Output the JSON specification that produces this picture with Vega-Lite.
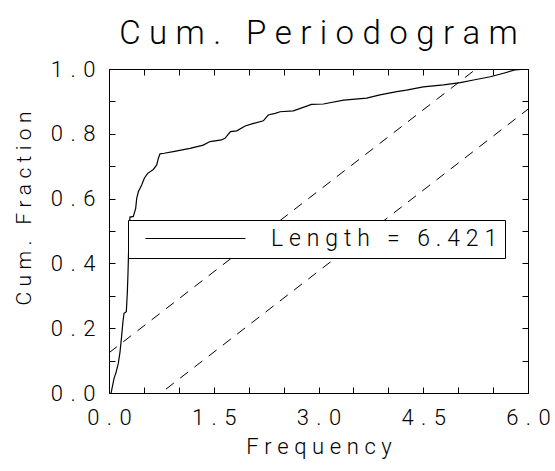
{
  "$schema": "https://vega.github.io/schema/vega-lite/v6.json",
  "width": 419,
  "height": 324,
  "autosize": {"type": "none"},
  "padding": {"left": 109, "top": 69, "right": 27, "bottom": 78},
  "background": "white",
  "title": {
    "text": "C\u2005u\u2005m\u2005.\u2005 \u2005P\u2005e\u2005r\u2005i\u2005o\u2005d\u2005o\u2005g\u2005r\u2005a\u2005m",
    "anchor": "middle",
    "frame": "group",
    "baseline": "alphabetic",
    "offset": 0,
    "dy": 19,
    "fontSize": 33,
    "font": "Roboto",
    "fontWeight": 300,
    "color": "black"
  },
  "config": {
    "view": {"stroke": "black", "strokeWidth": 1},
    "axis": {
      "grid": false,
      "domain": false,
      "tickColor": "black",
      "tickWidth": 1,
      "tickSize": -6,
      "labelColor": "black",
      "labelFont": "Roboto",
      "labelFontWeight": 300,
      "labelFontSize": 22,
      "titleColor": "black",
      "titleFont": "Roboto",
      "titleFontWeight": 300,
      "titleFontSize": 22,
      "labelOverlap": false,
      "labelFlush": false
    }
  },
  "resolve": {"axis": {"x": "independent", "y": "independent"}},
  "layer": [
    {
      "data": {
        "values": [
          {"f": 0.03, "v": 0.0, "series": "Length = 6.421"},
          {"f": 0.072, "v": 0.045, "series": "Length = 6.421"},
          {"f": 0.1, "v": 0.063, "series": "Length = 6.421"},
          {"f": 0.134, "v": 0.092, "series": "Length = 6.421"},
          {"f": 0.158, "v": 0.127, "series": "Length = 6.421"},
          {"f": 0.18, "v": 0.174, "series": "Length = 6.421"},
          {"f": 0.2, "v": 0.22, "series": "Length = 6.421"},
          {"f": 0.215, "v": 0.246, "series": "Length = 6.421"},
          {"f": 0.248, "v": 0.251, "series": "Length = 6.421"},
          {"f": 0.262, "v": 0.308, "series": "Length = 6.421"},
          {"f": 0.272, "v": 0.369, "series": "Length = 6.421"},
          {"f": 0.277, "v": 0.41, "series": "Length = 6.421"},
          {"f": 0.285, "v": 0.47, "series": "Length = 6.421"},
          {"f": 0.3, "v": 0.543, "series": "Length = 6.421"},
          {"f": 0.348, "v": 0.545, "series": "Length = 6.421"},
          {"f": 0.382, "v": 0.57, "series": "Length = 6.421"},
          {"f": 0.397, "v": 0.601, "series": "Length = 6.421"},
          {"f": 0.42, "v": 0.621, "series": "Length = 6.421"},
          {"f": 0.468, "v": 0.642, "series": "Length = 6.421"},
          {"f": 0.506, "v": 0.663, "series": "Length = 6.421"},
          {"f": 0.554, "v": 0.678, "series": "Length = 6.421"},
          {"f": 0.635, "v": 0.69, "series": "Length = 6.421"},
          {"f": 0.683, "v": 0.704, "series": "Length = 6.421"},
          {"f": 0.706, "v": 0.724, "series": "Length = 6.421"},
          {"f": 0.73, "v": 0.738, "series": "Length = 6.421"},
          {"f": 0.79, "v": 0.74, "series": "Length = 6.421"},
          {"f": 0.92, "v": 0.745, "series": "Length = 6.421"},
          {"f": 1.16, "v": 0.755, "series": "Length = 6.421"},
          {"f": 1.35, "v": 0.765, "series": "Length = 6.421"},
          {"f": 1.446, "v": 0.776, "series": "Length = 6.421"},
          {"f": 1.61, "v": 0.781, "series": "Length = 6.421"},
          {"f": 1.66, "v": 0.786, "series": "Length = 6.421"},
          {"f": 1.74, "v": 0.807, "series": "Length = 6.421"},
          {"f": 1.83, "v": 0.809, "series": "Length = 6.421"},
          {"f": 1.95, "v": 0.824, "series": "Length = 6.421"},
          {"f": 2.07, "v": 0.832, "series": "Length = 6.421"},
          {"f": 2.21, "v": 0.84, "series": "Length = 6.421"},
          {"f": 2.28, "v": 0.858, "series": "Length = 6.421"},
          {"f": 2.38, "v": 0.863, "series": "Length = 6.421"},
          {"f": 2.45, "v": 0.868, "series": "Length = 6.421"},
          {"f": 2.64, "v": 0.871, "series": "Length = 6.421"},
          {"f": 2.9, "v": 0.891, "series": "Length = 6.421"},
          {"f": 3.07, "v": 0.892, "series": "Length = 6.421"},
          {"f": 3.36, "v": 0.904, "series": "Length = 6.421"},
          {"f": 3.69, "v": 0.91, "series": "Length = 6.421"},
          {"f": 3.88, "v": 0.92, "series": "Length = 6.421"},
          {"f": 4.12, "v": 0.93, "series": "Length = 6.421"},
          {"f": 4.26, "v": 0.935, "series": "Length = 6.421"},
          {"f": 4.5, "v": 0.945, "series": "Length = 6.421"},
          {"f": 4.79, "v": 0.951, "series": "Length = 6.421"},
          {"f": 5.03, "v": 0.958, "series": "Length = 6.421"},
          {"f": 5.22, "v": 0.966, "series": "Length = 6.421"},
          {"f": 5.46, "v": 0.976, "series": "Length = 6.421"},
          {"f": 5.65, "v": 0.987, "series": "Length = 6.421"},
          {"f": 5.81, "v": 0.997, "series": "Length = 6.421"},
          {"f": 6.0, "v": 1.0, "series": "Length = 6.421"}
        ]
      },
      "mark": {"type": "line", "strokeWidth": 1.2, "clip": true},
      "encoding": {
        "x": {
          "field": "f",
          "type": "quantitative",
          "scale": {"domain": [0, 6], "nice": false, "zero": false},
          "axis": {
            "orient": "bottom",
            "values": [0, 0.5, 1, 1.5, 2, 2.5, 3, 3.5, 4, 4.5, 5, 5.5, 6],
            "labelExpr": "datum.value % 1.5 == 0 ? join(split(format(datum.value, '.1f'), ''), '\u2004') : ''",
            "labelPadding": 20,
            "title": "F\u2005r\u2005e\u2005q\u2005u\u2005e\u2005n\u2005c\u2005y",
            "titleBaseline": "alphabetic",
            "titleY": 60
          }
        },
        "y": {
          "field": "v",
          "type": "quantitative",
          "scale": {"domain": [0, 1], "nice": false, "zero": false},
          "axis": {
            "orient": "left",
            "values": [0, 0.1, 0.2, 0.3, 0.4, 0.5, 0.6, 0.7, 0.8, 0.9, 1],
            "labelExpr": "round(datum.value * 10) % 2 == 0 ? join(split(format(datum.value, '.1f'), ''), '\u2004') : ''",
            "labelPadding": 20,
            "title": "C\u2005u\u2005m\u2005.\u2005 \u2005F\u2005r\u2005a\u2005c\u2005t\u2005i\u2005o\u2005n",
            "titleFontSize": 21,
            "titleBaseline": "alphabetic",
            "titleAngle": -90,
            "titleX": -79,
            "titleY": 139
          }
        },
        "color": {
          "field": "series",
          "type": "nominal",
          "scale": {"range": ["black"]},
          "legend": {
            "orient": "none",
            "legendX": 19,
            "legendY": 151,
            "title": null,
            "direction": "vertical",
            "symbolType": "M-5,0H5",
            "symbolSize": 400,
            "symbolStrokeWidth": 1.2,
            "symbolStrokeColor": "black",
            "symbolOffset": 49,
            "labelOffset": 64,
            "labelFont": "Roboto",
            "labelFontWeight": 300,
            "labelFontSize": 23,
            "labelColor": "black",
            "labelLimit": 400,
            "labelExpr": "join(split(datum.label, ''), '\u2005')",
            "padding": 7,
            "strokeColor": "black",
            "fillColor": "white"
          }
        }
      }
    },
    {
      "data": {
        "values": [
          {"f": 0, "v": 0.124, "band": "upper"},
          {"f": 6, "v": 1.124, "band": "upper"},
          {"f": 0, "v": -0.124, "band": "lower"},
          {"f": 6, "v": 0.876, "band": "lower"}
        ]
      },
      "mark": {"type": "line", "color": "black", "strokeWidth": 1, "strokeDash": [10, 8], "clip": true},
      "encoding": {
        "x": {
          "field": "f",
          "type": "quantitative",
          "axis": {
            "orient": "top",
            "values": [0, 0.5, 1, 1.5, 2, 2.5, 3, 3.5, 4, 4.5, 5, 5.5, 6],
            "labels": false,
            "title": null
          }
        },
        "y": {
          "field": "v",
          "type": "quantitative",
          "axis": {
            "orient": "right",
            "values": [0, 0.1, 0.2, 0.3, 0.4, 0.5, 0.6, 0.7, 0.8, 0.9, 1],
            "labels": false,
            "title": null
          }
        },
        "detail": {"field": "band", "type": "nominal"}
      }
    }
  ]
}
